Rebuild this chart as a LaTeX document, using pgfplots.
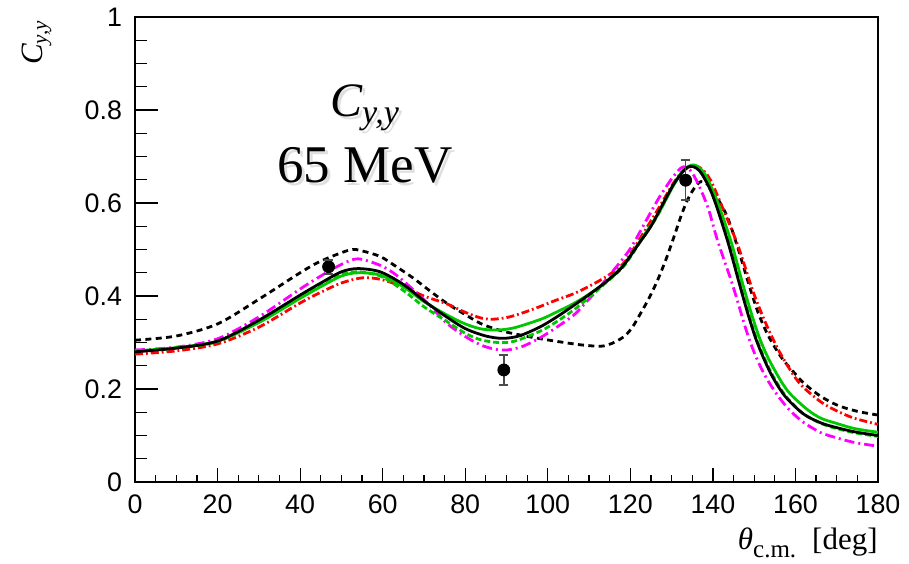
\documentclass[border=0pt]{standalone}
\usepackage{pgfplots}
\pgfplotsset{compat=1.18}
\usepackage{fontspec}
\setmainfont{Liberation Serif}
\newfontfamily\sansf{Liberation Sans}
\definecolor{rgreen}{rgb}{0,0.78,0}
\definecolor{rmag}{rgb}{1,0,1}
\definecolor{rred}{rgb}{1,0,0}
\begin{document}
\begin{tikzpicture}
\begin{axis}[
  scale only axis, width=371.5pt, height=232.5pt,
  xmin=0, xmax=180, ymin=0, ymax=1,
  xtick={0,20,...,180}, ytick={0,0.2,...,1.0},
  minor x tick num=3, minor y tick num=3,
  tick pos=left, tick align=inside,
  major tick length=11.5pt, minor tick length=6pt,
  xtick style={/pgfplots/major tick length=7pt,/pgfplots/minor tick length=3.5pt},
  every tick/.style={black, line width=0.6pt},
  axis line style={black, line width=0.65pt},
  /pgf/number format/assume math mode=true,
  ticklabel style={font=\sansf\fontsize{13.4}{15}\selectfont},
  yticklabel style={xshift=-3pt},
  xticklabel style={yshift=-3pt},
  clip=false,
]
\coordinate (bbl) at (rel axis cs:-0.1817,-0.1742);
\coordinate (btr) at (rel axis cs:1.0417,1.0366);

% black dashed
\addplot[black, line width=1.4pt, dash pattern=on 3pt off 2.2pt, smooth, tension=0.5] coordinates {
(0,0.305)(10,0.314)(20,0.340)(30,0.393)(40,0.450)(45,0.475)(52,0.499)(55,0.497)(59.4,0.485)(63,0.465)(67.5,0.438)(71.6,0.410)(75.6,0.384)(80,0.360)(83.7,0.341)(87,0.330)(90.2,0.322)(94,0.315)(98.3,0.308)(104,0.300)(108,0.295)(112.8,0.292)(115.5,0.298)(118.5,0.313)(120.5,0.333)(122.5,0.363)(124.5,0.395)(126.6,0.434)(128.6,0.478)(130.6,0.528)(132.2,0.570)(133.8,0.606)(135.5,0.632)(137.1,0.646)(139,0.638)(141,0.612)(143.5,0.570)(146,0.505)(148.4,0.434)(150.8,0.368)(153,0.322)(155,0.290)(157,0.263)(160,0.232)(162.1,0.212)(166,0.185)(170.2,0.165)(175,0.152)(180,0.144)};

% red dash-dot
\addplot[rred, line width=1.4pt, dash pattern=on 4pt off 1.5pt on 0.9pt off 1.5pt, smooth, tension=0.5] coordinates {
(0,0.275)(10,0.282)(20,0.297)(30,0.333)(40,0.385)(45,0.408)(50,0.428)(55,0.439)(59.4,0.436)(65,0.420)(70,0.400)(75.6,0.383)(80,0.365)(83.7,0.353)(86.5,0.350)(90.2,0.354)(94,0.364)(98.3,0.378)(102,0.391)(106.3,0.405)(110,0.421)(114.4,0.443)(118.5,0.472)(122.5,0.526)(126.6,0.585)(130.6,0.645)(133,0.671)(135.5,0.680)(137.5,0.672)(139.5,0.648)(142,0.597)(146,0.510)(149.6,0.413)(152,0.358)(154.1,0.316)(156,0.282)(158.1,0.250)(160,0.224)(162,0.203)(166.2,0.172)(170,0.153)(174.3,0.137)(180,0.124)};

% magenta dash-dot
\addplot[rmag, line width=1.4pt, dash pattern=on 5pt off 2pt on 1pt off 2pt, smooth, tension=0.5] coordinates {
(0,0.284)(10,0.290)(20,0.308)(30,0.355)(40,0.415)(45,0.443)(50,0.468)(54,0.480)(59.4,0.466)(63,0.447)(67.5,0.413)(71.6,0.378)(75.6,0.341)(80,0.313)(83.7,0.295)(87,0.286)(90.2,0.284)(94,0.292)(98.3,0.311)(102,0.332)(106.3,0.359)(109,0.384)(112,0.413)(116,0.456)(120,0.502)(124,0.565)(127,0.612)(130,0.652)(132.2,0.675)(133.5,0.677)(135,0.665)(137,0.630)(139,0.585)(141.1,0.520)(144.4,0.434)(146,0.388)(147.6,0.340)(149.2,0.297)(151,0.258)(153,0.223)(155,0.195)(157,0.171)(159,0.151)(162,0.128)(166.2,0.106)(170,0.095)(174.3,0.085)(180,0.077)};

% green dashed
\addplot[rgreen, line width=1.4pt, dash pattern=on 3pt off 1.5pt, smooth, tension=0.5] coordinates {
(0,0.281)(10,0.288)(20,0.302)(30,0.345)(40,0.398)(45,0.424)(50,0.446)(54,0.452)(59.4,0.443)(65,0.412)(70,0.377)(75.6,0.345)(80,0.320)(83.7,0.306)(88,0.300)(92,0.303)(98.3,0.325)(102,0.344)(106.3,0.370)(110,0.397)(114,0.428)(118.5,0.465)(122.5,0.518)(126.6,0.573)(130.6,0.642)(133,0.671)(134.8,0.680)(136.5,0.673)(138,0.655)(140.5,0.605)(143.8,0.520)(146.5,0.430)(148.6,0.364)(150.5,0.310)(152.4,0.268)(154.2,0.234)(156.1,0.205)(158.1,0.180)(162,0.146)(166.2,0.126)(170,0.115)(174.3,0.106)(180,0.098)};

% green solid
\addplot[rgreen, line width=1.4pt, smooth, tension=0.5] coordinates {
(0,0.282)(10,0.289)(20,0.303)(30,0.343)(40,0.395)(45,0.420)(50,0.443)(54,0.450)(59.4,0.445)(65,0.420)(70,0.388)(75.6,0.359)(80,0.340)(84,0.329)(88,0.327)(92,0.332)(98.3,0.350)(102,0.365)(106.3,0.384)(110,0.404)(114.4,0.432)(118.5,0.468)(122.5,0.520)(126.6,0.575)(130.6,0.640)(133,0.672)(135.2,0.682)(137,0.674)(138.5,0.655)(141,0.605)(144.3,0.520)(147.1,0.430)(149.2,0.366)(151.2,0.312)(153.1,0.272)(155,0.240)(157,0.210)(159,0.187)(163,0.155)(166.2,0.137)(170,0.126)(174.3,0.115)(180,0.107)};

% black solid
\addplot[black, line width=1.4pt, smooth, tension=0.5] coordinates {
(0,0.280)(10,0.288)(20,0.303)(30,0.348)(40,0.402)(45,0.428)(50,0.452)(54,0.459)(59.4,0.452)(65,0.425)(70,0.390)(75,0.358)(80,0.330)(85,0.314)(89,0.309)(93,0.314)(98,0.333)(102,0.354)(106,0.378)(110,0.403)(114,0.430)(118,0.462)(122,0.512)(125,0.550)(128,0.600)(130.6,0.642)(133,0.670)(134.5,0.679)(136,0.675)(137.5,0.660)(140,0.615)(143.5,0.520)(146.3,0.430)(148.4,0.364)(150.4,0.308)(152.3,0.266)(154.1,0.232)(156,0.203)(158.1,0.178)(162,0.146)(166.2,0.127)(170,0.117)(174.3,0.108)(180,0.100)};

% data
\addplot[only marks, mark=*, mark size=3pt, black,
  error bars/.cd, y dir=both, y explicit,
  error bar style={black!70, line width=0.8pt},
  error mark=none]
coordinates {
(46.9,0.463) +- (0,0.015)
(89.35,0.241) +- (0,0.032)
(133.4,0.649) +- (0,0.043)
};
% error bar caps
\addplot[only marks, mark=-, mark size=2.2pt, black!70, mark options={line width=0.8pt}] coordinates {
(46.9,0.478)(46.9,0.448)(89.35,0.273)(89.35,0.209)(133.4,0.692)(133.4,0.606)};

% texts
\node[anchor=base west, inner sep=0, text=gray!25] at ([xshift=1.5pt,yshift=-1.5pt]rel axis cs:0.262,0.785) {\fontsize{24}{28}\selectfont\itshape C\raisebox{-3.3pt}{\fontsize{17}{18}\selectfont y,y}};
\node[anchor=base west, inner sep=0] at (rel axis cs:0.262,0.785) {\fontsize{24}{28}\selectfont\itshape C\raisebox{-3.3pt}{\fontsize{17}{18}\selectfont y,y}};
\node[anchor=base west, inner sep=0, text=gray!25] at ([xshift=1.5pt,yshift=-1.5pt]rel axis cs:0.191,0.645) {\fontsize{26.5}{30}\selectfont 65 MeV};
\node[anchor=base west, inner sep=0] at (rel axis cs:0.191,0.645) {\fontsize{26.5}{30}\selectfont 65 MeV};

\node[anchor=base east, inner sep=0] at (rel axis cs:1,-0.146) {\fontsize{15.5}{18}\selectfont\itshape θ\upshape\raisebox{-4pt}{\fontsize{12.5}{13}\selectfont c.m.}\hspace{8pt}[deg]};
\node[rotate=90, inner sep=0] at (rel axis cs:-0.1319,0.944) {\fontsize{15.5}{18}\selectfont\itshape C\raisebox{-2pt}{\fontsize{10.5}{11}\selectfont y,y}};
\end{axis}
\pgfresetboundingbox
\path[use as bounding box] (bbl) rectangle (btr);
\end{tikzpicture}
\end{document}
